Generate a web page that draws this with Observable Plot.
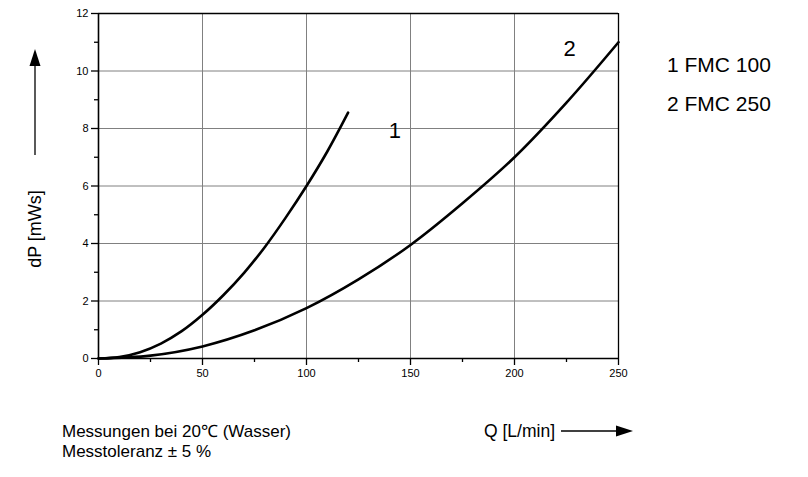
<!DOCTYPE html>
<html>
<head>
<meta charset="utf-8">
<script src="https://cdn.jsdelivr.net/npm/d3@7"></script>
<script src="https://cdn.jsdelivr.net/npm/@observablehq/plot@0.6"></script>
<style>
  html, body { margin: 0; padding: 0; background: #fff; }
  svg { font-family: "Liberation Sans", Arial, sans-serif; }
</style>
</head>
<body>
<div id="chart"></div>
<script>
// Data
const q1 = [0, 10, 20, 30, 40, 50, 60, 70, 80, 90, 100, 110, 120];
const dp1 = [0, 0.05, 0.22, 0.52, 0.95, 1.52, 2.2, 2.98, 3.88, 4.9, 6.0, 7.2, 8.55];
const q2 = [0, 25, 50, 75, 100, 125, 150, 175, 200, 225, 250];
const dp2 = [0, 0.1, 0.42, 0.98, 1.75, 2.75, 3.95, 5.4, 7.0, 8.9, 11.0];
const xTicks = [0, 50, 100, 150, 200, 250];
const xMinor = [25, 75, 125, 175, 225];
const yTicks = [0, 2, 4, 6, 8, 10, 12];
const yMinor = [1, 3, 5, 7, 9, 11];
const seriesLabels = [{x: 142.5, y: 7.9, t: "1"}, {x: 226.5, y: 10.75, t: "2"}];
const legendItems = ["1 FMC 100", "2 FMC 250"];
const xLabel = "Q [L/min]";
const yLabel = "dP [mWs]";
const notes = ["Messungen bei 20\u2103 (Wasser)", "Messtoleranz \u00b1 5 %"];

const s1 = q1.map((q, i) => ({q, dp: dp1[i]}));
const s2 = q2.map((q, i) => ({q, dp: dp2[i]}));

const W = 808, H = 477;
const chart = Plot.plot({
  width: W, height: H,
  marginLeft: 98, marginRight: 190, marginTop: 13, marginBottom: 119,
  style: {fontFamily: "Liberation Sans, Arial, sans-serif", background: "#fff", overflow: "visible"},
  x: {domain: [0, 250]},
  y: {domain: [0, 12]},
  marks: [
    Plot.gridX(xTicks.filter(d => d > 0 && d < 250), {stroke: "#808080", strokeOpacity: 1, strokeWidth: 1}),
    Plot.gridY(yTicks.filter(d => d > 0 && d < 12), {stroke: "#808080", strokeOpacity: 1, strokeWidth: 1}),
    Plot.ruleY([12], {stroke: "#000", strokeWidth: 1.3}),
    Plot.ruleX([250], {stroke: "#000", strokeWidth: 1.3}),
    Plot.ruleX([0], {stroke: "#000", strokeWidth: 1.6}),
    Plot.ruleY([0], {stroke: "#000", strokeWidth: 1.6}),
    Plot.axisX({ticks: xTicks, tickSize: 7, tickPadding: 4, fontSize: 11, label: null, stroke: "#000", strokeWidth: 1.3, color: "#000"}),
    Plot.axisX({ticks: xMinor, tickSize: 4, text: null, label: null, stroke: "#000", strokeWidth: 1.3}),
    Plot.axisY({ticks: yTicks, tickSize: 7, tickPadding: 3, fontSize: 11, label: null, stroke: "#000", strokeWidth: 1.3, color: "#000"}),
    Plot.axisY({ticks: yMinor, tickSize: 4, text: null, label: null, stroke: "#000", strokeWidth: 1.3}),
    Plot.line(s1, {x: "q", y: "dp", stroke: "#000", strokeWidth: 2.6, curve: "catmull-rom"}),
    Plot.line(s2, {x: "q", y: "dp", stroke: "#000", strokeWidth: 2.6, curve: "catmull-rom"}),
    Plot.text(seriesLabels, {x: "x", y: "y", text: "t", fontSize: 22, fill: "#000"})
  ]
});
document.getElementById("chart").appendChild(chart);

// Annotations outside the frame
const svg = d3.select(chart);
const g = svg.append("g").attr("font-family", "Liberation Sans, Arial, sans-serif")
  .attr("fill", "#000").attr("text-anchor", "start");
legendItems.forEach((t, i) => {
  g.append("text").attr("x", 667).attr("y", 72 + i * 39).attr("font-size", 21).attr("text-anchor", "start").text(t);
});
notes.forEach((t, i) => {
  g.append("text").attr("x", 62).attr("y", 437 + i * 20).attr("font-size", 17).attr("text-anchor", "start").text(t);
});
g.append("text").attr("x", 484).attr("y", 437).attr("font-size", 17.5).attr("text-anchor", "start").text(xLabel);
g.append("text").attr("transform", "translate(41,229) rotate(-90)").attr("text-anchor", "middle")
  .attr("font-size", 18).text(yLabel);
// arrows
g.append("line").attr("x1", 561).attr("x2", 620).attr("y1", 431).attr("y2", 431).attr("stroke", "#000").attr("stroke-width", 1.3);
g.append("path").attr("d", "M616,425.5 L633,431 L616,436.5 Z").attr("fill", "#000");
g.append("line").attr("x1", 35).attr("x2", 35).attr("y1", 155).attr("y2", 62).attr("stroke", "#000").attr("stroke-width", 1.3);
g.append("path").attr("d", "M29.5,66 L35,49 L40.5,66 Z").attr("fill", "#000");
</script>
</body>
</html>
